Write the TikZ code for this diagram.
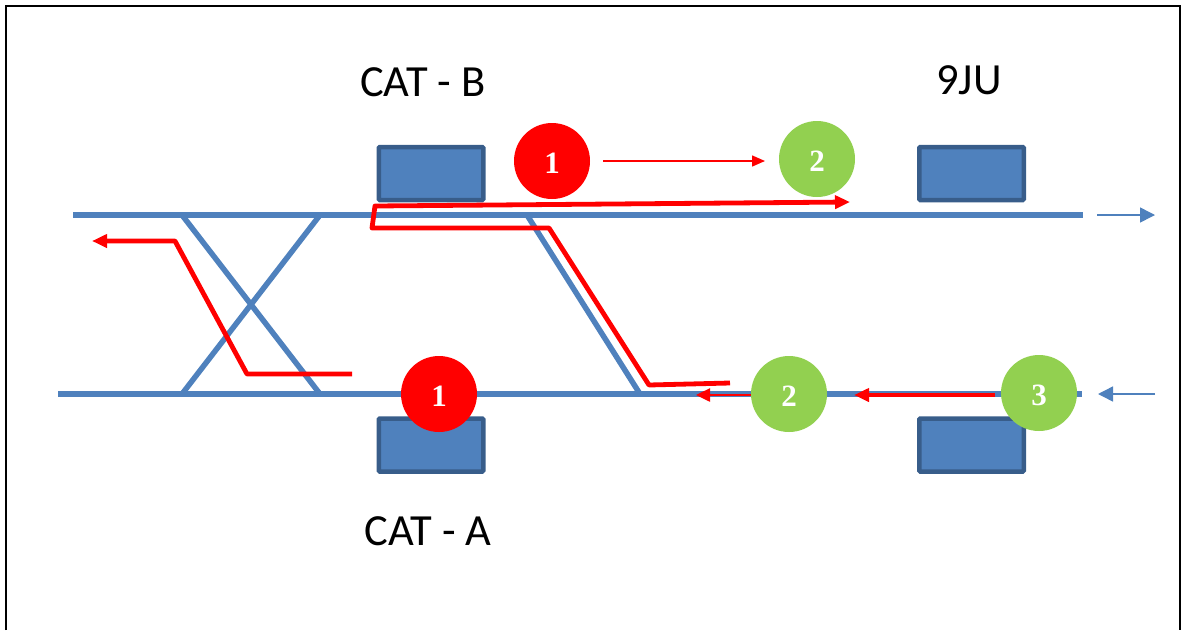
\documentclass[tikz,border=0pt]{standalone}
\usepackage{fontspec}
\setmainfont{Carlito}
\newfontfamily\numfont{Liberation Serif}
\usetikzlibrary{arrows.meta}
\definecolor{trackblue}{RGB}{79,129,189}
\definecolor{edgeblue}{RGB}{56,93,138}
\definecolor{signalgreen}{RGB}{146,208,80}
\newcommand{\signum}[1]{\raisebox{-2.5pt}[\height][0pt]{#1}}
\tikzset{
  track/.style={draw=trackblue,line width=5.5pt},
  station/.style={draw=edgeblue,fill=trackblue,line width=4.5pt,rounded corners=1pt,minimum width=104.5pt,minimum height=53pt,inner sep=0pt},
  redsig/.style={circle,fill=red,minimum size=76pt,inner sep=0pt,text=white,font=\numfont\bfseries\fontsize{31}{31}\selectfont},
  greensig/.style={redsig,fill=signalgreen},
  route/.style={draw=red,line width=4.8pt,line join=round},
  thinroute/.style={draw=red,line width=1.5pt},
  dirarrow/.style={draw=trackblue,line width=1.5pt,-{Triangle[length=15pt,width=15pt]}},
  caption/.style={font=\fontsize{44.5}{44.5}\selectfont,inner sep=0pt}
}
\begin{document}
\begin{tikzpicture}[x=1pt,y=-1pt]
  \useasboundingbox (0,0) rectangle (1181,630);
  % frame
  \coordinate (fa) at (5.5,630);
  \coordinate (fb) at (5.5,5.5);
  \coordinate (fc) at (1180,5.5);
  \coordinate (fd) at (1180,630);
  \draw[line width=2pt] (fa) -- (fb) -- (fc) -- (fd);
  % track ends and switch points
  \coordinate (upw) at (73,215);
  \coordinate (upe) at (1083,215);
  \coordinate (dnw) at (58,394);
  \coordinate (dne) at (1082,394);
  \coordinate (upa) at (182,215);
  \coordinate (upb) at (320,215);
  \coordinate (upc) at (527,215);
  \coordinate (dna) at (182,394);
  \coordinate (dnb) at (320,394);
  \coordinate (dnc) at (640,394);
  \begin{scope}[track]
    \draw (upw) to (upe);
    \draw (dnw) to (dne);
    \draw (upa) to (dnb);
    \draw (upb) to (dna);
    \draw (upc) to (dnc);
  \end{scope}
  % stations
  \node[station] (catb) at (431,173.5) {};
  \node[station] (juup) at (971.5,173.5) {};
  \node[station] (cata) at (431,445) {};
  \node[station] (judn) at (971.5,445) {};
  % routes
  \coordinate (ra) at (730,383);
  \coordinate (rb) at (649,385);
  \coordinate (rc) at (549,228);
  \coordinate (rd) at (372,228);
  \coordinate (re) at (375,206);
  \coordinate (rf) at (850,202);
  \draw[route,-{Triangle[length=15pt,width=13pt]}] (ra) -- (rb) -- (rc) -- (rd) -- (re) -- (rf);
  \coordinate (la) at (352,374);
  \coordinate (lb) at (247,374);
  \coordinate (lc) at (175,241);
  \coordinate (ld) at (92,241);
  \draw[route,-{Triangle[length=15pt,width=13pt]}] (la) -- (lb) -- (lc) -- (ld);
  \coordinate (sa) at (995,395);
  \coordinate (sb) at (854,395);
  \draw[route,-{Triangle[length=15pt,width=13pt]}] (sa) to (sb);
  \coordinate (ta) at (755,395);
  \coordinate (tb) at (696,395);
  \draw[thinroute,line width=2.5pt,-{Triangle[length=14pt,width=13pt]}] (ta) to (tb);
  % signals
  \node[redsig] (b1) at (552,161) {\signum{1}};
  \node[greensig] (b2) at (817,159) {\signum{2}};
  \node[redsig] (a1) at (439,394) {\signum{1}};
  \node[greensig] (a2) at (789,394) {\signum{2}};
  \node[greensig] (a3) at (1039,393) {\signum{3}};
  \coordinate (ha) at (603,161);
  \coordinate (hb) at (765,161);
  \draw[thinroute,-{Triangle[length=13pt,width=11pt]}] (ha) to (hb);
  % direction arrows
  \coordinate (ua) at (1097,215);
  \coordinate (ub) at (1155,215);
  \coordinate (da) at (1155,394);
  \coordinate (db) at (1098,394);
  \draw[dirarrow] (ua) to (ub);
  \draw[dirarrow] (da) to (db);
  % captions
  \node[caption] (lblb) at (423,82) {CAT - B};
  \node[caption] (lblju) at (969,80) {9JU};
  \node[caption] (lbla) at (428,531) {CAT - A};
\end{tikzpicture}
\end{document}
